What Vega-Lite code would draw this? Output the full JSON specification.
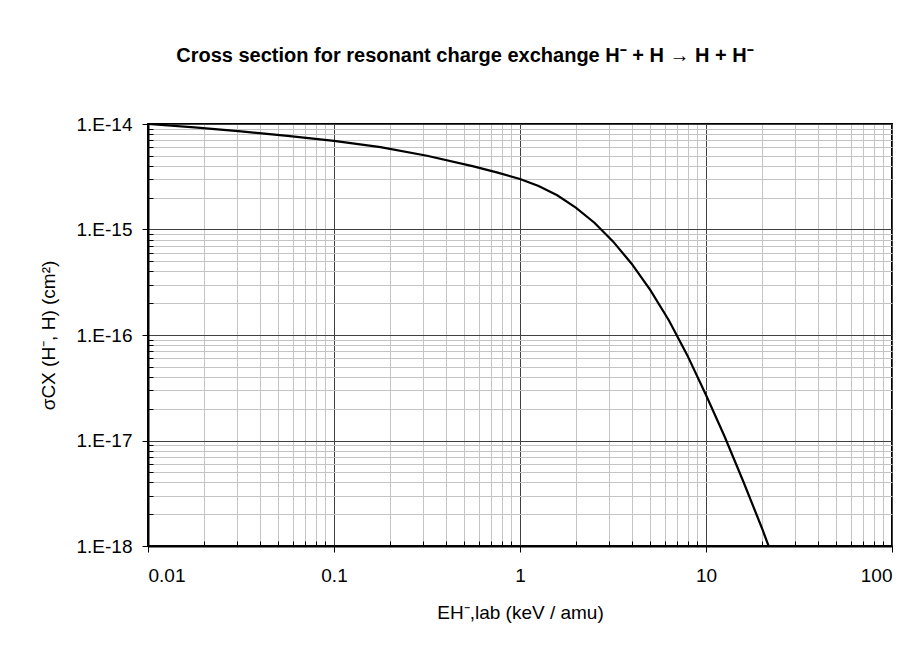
{
  "$schema": "https://vega.github.io/schema/vega-lite/v6.json",
  "autosize": {"type": "none"},
  "padding": {"left": 148, "top": 124, "right": 27, "bottom": 108},
  "width": 744,
  "height": 422,
  "background": "white",
  "title": {
    "text": "Cross section for resonant charge exchange H⁻ + H → H + H⁻",
    "font": "Liberation Sans",
    "fontSize": 20,
    "fontWeight": "bold",
    "color": "black",
    "anchor": "middle",
    "dx": -55,
    "offset": 49
  },
  "data": {
    "values": [
      {"E": 0.01, "sigma": 1.0e-14},
      {"E": 0.01778, "sigma": 9.28e-15},
      {"E": 0.03162, "sigma": 8.51e-15},
      {"E": 0.05623, "sigma": 7.72e-15},
      {"E": 0.1, "sigma": 6.92e-15},
      {"E": 0.1778, "sigma": 6.03e-15},
      {"E": 0.3162, "sigma": 5.0e-15},
      {"E": 0.5623, "sigma": 3.97e-15},
      {"E": 0.75, "sigma": 3.48e-15},
      {"E": 1.0, "sigma": 3.01e-15},
      {"E": 1.259, "sigma": 2.59e-15},
      {"E": 1.585, "sigma": 2.11e-15},
      {"E": 1.995, "sigma": 1.61e-15},
      {"E": 2.512, "sigma": 1.16e-15},
      {"E": 3.162, "sigma": 7.71e-16},
      {"E": 3.981, "sigma": 4.74e-16},
      {"E": 5.012, "sigma": 2.68e-16},
      {"E": 6.31, "sigma": 1.38e-16},
      {"E": 7.943, "sigma": 6.41e-17},
      {"E": 10.0, "sigma": 2.7e-17},
      {"E": 12.59, "sigma": 1.09e-17},
      {"E": 15.85, "sigma": 4.11e-18},
      {"E": 19.95, "sigma": 1.49e-18},
      {"E": 21.7, "sigma": 1.0e-18}
    ]
  },
  "layer": [
    {
      "mark": {"type": "line", "strokeOpacity": 0},
      "encoding": {
        "x": {
          "field": "E", "type": "quantitative",
          "scale": {"type": "log", "domain": [0.01, 100], "nice": false},
          "axis": {
            "orient": "bottom",
            "values": [0.02,0.03,0.04,0.05,0.06,0.07,0.08,0.09,0.2,0.3,0.4,0.5,0.6,0.7,0.8,0.9,2,3,4,5,6,7,8,9,20,30,40,50,60,70,80,90],
            "labels": false, "title": null, "domain": false,
            "grid": true, "gridColor": "#c4c4c4", "gridWidth": 1,
            "ticks": true, "tickSize": -5, "tickColor": "black", "tickWidth": 1
          }
        },
        "y": {
          "field": "sigma", "type": "quantitative",
          "scale": {"type": "log", "domain": [1e-18, 1e-14], "nice": false},
          "axis": {
            "orient": "left",
            "values": [2e-18,3e-18,4e-18,5e-18,6e-18,7e-18,8e-18,9e-18,2e-17,3e-17,4e-17,5e-17,6e-17,7e-17,8e-17,9e-17,2e-16,3e-16,4e-16,5e-16,6e-16,7e-16,8e-16,9e-16,2e-15,3e-15,4e-15,5e-15,6e-15,7e-15,8e-15,9e-15],
            "labels": false, "title": null, "domain": false,
            "grid": true, "gridColor": "#c4c4c4", "gridWidth": 1,
            "ticks": true, "tickSize": -5, "tickColor": "black", "tickWidth": 1
          }
        }
      }
    },
    {
      "mark": {"type": "line", "color": "black", "strokeWidth": 2.2, "clip": true},
      "encoding": {
        "x": {
          "field": "E", "type": "quantitative",
          "scale": {"type": "log", "domain": [0.01, 100], "nice": false},
          "axis": {
            "orient": "bottom",
            "values": [0.01, 0.1, 1, 10, 100],
            "format": ".2~f",
            "grid": true, "gridColor": "#404040", "gridWidth": 1,
            "domain": true, "domainColor": "black", "domainWidth": 2,
            "ticks": true, "tickSize": 6, "tickColor": "black", "tickWidth": 1,
            "labelFont": "Liberation Sans", "labelFontSize": 19, "labelColor": "black", "labelPadding": 14,
            "title": "EH⁻,lab (keV / amu)",
            "titleFont": "Liberation Sans", "titleFontSize": 19, "titleFontWeight": "normal", "titleColor": "black", "titlePadding": 18
          }
        },
        "y": {
          "field": "sigma", "type": "quantitative",
          "scale": {"type": "log", "domain": [1e-18, 1e-14], "nice": false},
          "axis": {
            "orient": "left",
            "values": [1e-18, 1e-17, 1e-16, 1e-15, 1e-14],
            "labelExpr": "'1.E' + round(log(datum.value)/LN10)",
            "grid": true, "gridColor": "#404040", "gridWidth": 1,
            "domain": true, "domainColor": "black", "domainWidth": 2,
            "ticks": true, "tickSize": 6, "tickColor": "black", "tickWidth": 1,
            "labelFont": "Liberation Sans", "labelFontSize": 19, "labelColor": "black", "labelPadding": 10,
            "title": "σCX (H⁻, H) (cm²)",
            "titleFont": "Liberation Sans", "titleFontSize": 19, "titleFontWeight": "normal", "titleColor": "black", "titlePadding": 18
          }
        }
      }
    }
  ],
  "resolve": {"axis": {"x": "independent", "y": "independent"}},
  "config": {
    "view": {"stroke": "black", "strokeWidth": 2},
    "axis": {"labelOverlap": false}
  }
}
